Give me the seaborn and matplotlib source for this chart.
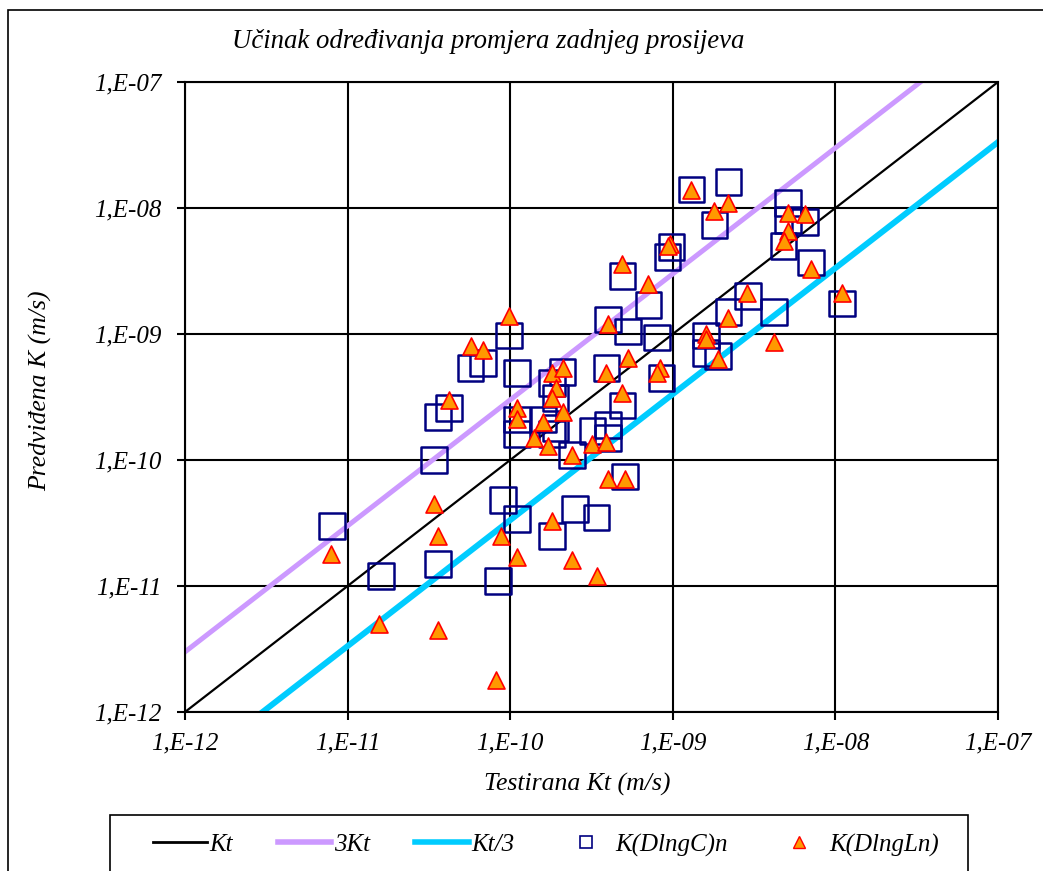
import pandas as pd
import seaborn as sns
import matplotlib.pyplot as plt
from matplotlib.lines import Line2D
from matplotlib.patches import Rectangle

# K(DlngC)n - kvadrati
kc_x = [8.0e-12, 1.6e-11, 3.6e-11, 3.4e-11, 3.6e-11, 4.2e-11, 5.7e-11, 6.8e-11, 9.8e-11, 1.1e-10,
        2.1e-10, 1.8e-10, 1.9e-10, 3.9e-10, 4.9e-10, 1.1e-10, 1.1e-10, 1.6e-10, 1.9e-10, 1.8e-10,
        3.2e-10, 4.0e-10, 4.0e-10, 2.4e-10, 5.1e-10, 9.0e-11, 1.1e-10, 2.5e-10, 3.4e-10, 1.8e-10,
        8.4e-11, 4.0e-10, 5.3e-10, 4.9e-10, 7.1e-10, 8.0e-10, 8.5e-10, 9.8e-10, 9.3e-10, 1.3e-9,
        2.2e-9, 1.8e-9, 1.6e-9, 1.6e-9, 1.9e-9, 2.2e-9, 2.9e-9, 4.2e-9, 5.1e-9, 5.1e-9,
        6.5e-9, 4.8e-9, 7.1e-9, 1.1e-8]
kc_y = [3.0e-11, 1.2e-11, 1.5e-11, 1.0e-10, 2.2e-10, 2.6e-10, 5.4e-10, 5.9e-10, 9.7e-10, 4.9e-10,
        5.0e-10, 4.1e-10, 3.1e-10, 5.4e-10, 2.7e-10, 2.1e-10, 1.6e-10, 2.1e-10, 1.8e-10, 1.6e-10,
        1.7e-10, 1.9e-10, 1.5e-10, 1.1e-10, 7.4e-11, 4.8e-11, 3.4e-11, 4.1e-11, 3.5e-11, 2.5e-11,
        1.1e-11, 1.3e-9, 1.05e-9, 2.9e-9, 1.7e-9, 9.4e-10, 4.5e-10, 4.9e-9, 4.1e-9, 1.4e-8,
        1.6e-8, 7.3e-9, 9.7e-10, 7.1e-10, 6.7e-10, 1.5e-9, 2.0e-9, 1.5e-9, 1.1e-8, 8.0e-9,
        7.7e-9, 5.0e-9, 3.7e-9, 1.75e-9]

# K(DlngLn) - trokuti
kl_x = [9.8e-11, 5.7e-11, 6.8e-11, 4.2e-11, 1.1e-10, 1.1e-10, 1.8e-10, 2.1e-10, 1.9e-10, 1.8e-10,
        2.1e-10, 1.6e-10, 1.4e-10, 1.7e-10, 2.4e-10, 3.2e-10, 3.9e-10, 4.0e-10, 5.3e-10, 3.9e-10,
        4.9e-10, 4.0e-10, 5.1e-10, 3.4e-11, 3.6e-11, 7.9e-12, 8.8e-11, 1.1e-10, 1.8e-10, 2.4e-10,
        3.4e-10, 1.55e-11, 3.6e-11, 8.2e-11, 1.3e-9, 2.2e-9, 1.8e-9, 5.1e-9, 6.5e-9, 5.1e-9,
        4.8e-9, 7.1e-9, 9.6e-10, 9.3e-10, 4.9e-10, 7.0e-10, 2.85e-9, 2.2e-9, 1.6e-9, 1.6e-9,
        1.9e-9, 4.2e-9, 1.1e-8, 8.4e-10, 8.0e-10]
kl_y = [1.4e-9, 8.1e-10, 7.4e-10, 3.0e-10, 2.6e-10, 2.1e-10, 4.9e-10, 5.4e-10, 3.7e-10, 3.1e-10,
        2.4e-10, 2.0e-10, 1.5e-10, 1.3e-10, 1.1e-10, 1.35e-10, 1.4e-10, 1.2e-9, 6.5e-10, 4.9e-10,
        3.4e-10, 7.1e-11, 7.1e-11, 4.5e-11, 2.5e-11, 1.8e-11, 2.5e-11, 1.7e-11, 3.3e-11, 1.6e-11,
        1.2e-11, 5.0e-12, 4.5e-12, 1.8e-12, 1.4e-8, 1.1e-8, 9.5e-9, 9.2e-9, 9.0e-9, 6.6e-9,
        5.5e-9, 3.3e-9, 5.2e-9, 5.0e-9, 3.6e-9, 2.5e-9, 2.1e-9, 1.35e-9, 1.0e-9, 9.1e-10,
        6.3e-10, 8.6e-10, 2.1e-9, 5.4e-10, 4.9e-10]

decades = [1e-12, 1e-11, 1e-10, 1e-9, 1e-8, 1e-7]
tick_labels = ['1,E-12', '1,E-11', '1,E-10', '1,E-09', '1,E-08', '1,E-07']

plt.rcParams['font.family'] = ['Liberation Serif', 'DejaVu Serif']
plt.rcParams['font.style'] = 'italic'

kc = pd.DataFrame({'Kt': kc_x, 'K': kc_y})
kl = pd.DataFrame({'Kt': kl_x, 'K': kl_y})
ref = pd.DataFrame({'x': decades})
ref['Kt'] = ref['x']
ref['3Kt'] = ref['x'] * 3
ref['Kt/3'] = ref['x'] / 3

fig = plt.figure(figsize=(10.43, 8.71), dpi=100)
ax = fig.add_axes([185 / 1043, 1 - 712 / 871, 813 / 1043, 630 / 871])
ax.set_xscale('log')
ax.set_yscale('log')

ax.grid(True, color='black', linewidth=1.5, zorder=0)
ax.set_axisbelow(True)

sns.lineplot(data=ref, x='x', y='Kt', color='black', linewidth=1.6, ax=ax, zorder=2)
sns.lineplot(data=ref, x='x', y='3Kt', color='#CC99FF', linewidth=3.6, ax=ax, zorder=2)
sns.lineplot(data=ref, x='x', y='Kt/3', color='#00CCFF', linewidth=4.3, ax=ax, zorder=2)

sns.scatterplot(data=kc, x='Kt', y='K', marker='s', s=340, facecolor='none',
                edgecolor='#000080', linewidth=1.8, ax=ax, zorder=3)
sns.scatterplot(data=kl, x='Kt', y='K', marker='^', s=150, color='#FF9900',
                edgecolor='#FF0000', linewidth=1.2, ax=ax, zorder=4)

ax.set_xlim(1e-12, 1e-7)
ax.set_ylim(1e-12, 1e-7)
ax.set_xticks(decades, tick_labels)
ax.set_yticks(decades, tick_labels)
ax.minorticks_off()
ax.tick_params(direction='out', length=6, width=1.5, labelsize=18, color='black')
ax.tick_params(axis='y', pad=11)
ax.tick_params(axis='x', pad=9)
for sp in ax.spines.values():
    sp.set_linewidth(1.5)
    sp.set_color('black')

ax.set_xlabel('Testirana Kt (m/s)', fontsize=18.5)
ax.set_ylabel('Predviđena K (m/s)', fontsize=18.5)
ax.xaxis.set_label_coords(0.483, -0.097)
ax.yaxis.set_label_coords(-0.164, 0.51)
fig.text(232 / 1043, 1 - 42 / 871, 'Učinak određivanja promjera zadnjeg prosijeva',
         fontsize=19.3, va='center', ha='left')

# okvir grafikona
fig.patches.append(Rectangle((8 / 1043, -0.1), 1.2, 1 - 10 / 871 + 0.1, transform=fig.transFigure,
                             fill=False, edgecolor='black', linewidth=1.2))
# okvir legende
fig.patches.append(Rectangle((110 / 1043, -0.1), 858 / 1043, 0.1 + 1 - 815 / 871,
                             transform=fig.transFigure, fill=False, edgecolor='black',
                             linewidth=1.2))

handles = [
    Line2D([], [], color='black', linewidth=2),
    Line2D([], [], color='#CC99FF', linewidth=4),
    Line2D([], [], color='#00CCFF', linewidth=4),
    Line2D([], [], linestyle='none', marker='s', markersize=9, markerfacecolor='none',
           markeredgecolor='#000080', markeredgewidth=1.2),
    Line2D([], [], linestyle='none', marker='^', markersize=9, markerfacecolor='#FF9900',
           markeredgecolor='#FF0000', markeredgewidth=1),
]
fig.legend(handles, ['Kt', '3Kt', 'Kt/3', 'K(DlngC)n', 'K(DlngLn)'], ncol=5,
           loc='center left', bbox_to_anchor=(153 / 1043, 1 - 845 / 871),
           fontsize=18, frameon=False, handlelength=2.15, handletextpad=0.12,
           columnspacing=1.77, borderpad=0, borderaxespad=0)

fig.savefig('out.png', dpi=100)
